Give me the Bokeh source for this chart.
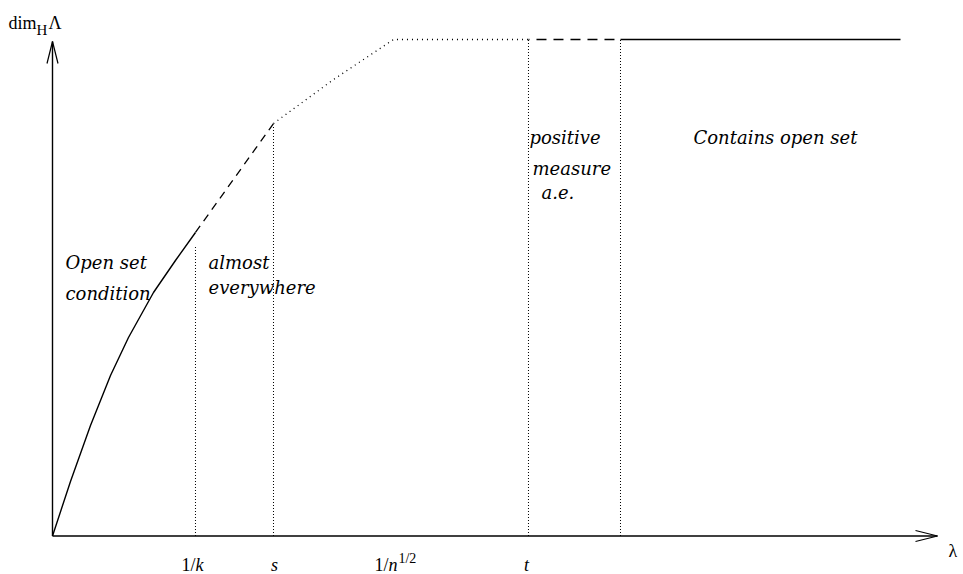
from bokeh.plotting import figure
from bokeh.models import Range1d
from bokeh.core.properties import value
from bokeh.embed import file_html
from bokeh.resources import INLINE

# ---------------- data (λ and dim_H Λ in normalised units) ----------------
# solid part of the curve (open set condition)
solid_lam = [0.0, 0.0212, 0.0448, 0.0684, 0.0896, 0.1191, 0.1450, 0.1686]
solid_dim = [0.0, 0.1098, 0.2226, 0.3233, 0.3998, 0.4904, 0.5549, 0.6113]
# dashed part (almost everywhere)
dash_lam = [0.1686, 0.2606]
dash_dim = [0.6113, 0.8308]
# dotted part up to the plateau
dot_lam = [0.2606, 0.3314, 0.4021, 0.5613]
dot_dim = [0.8308, 0.9194, 1.0, 1.0]
# plateau: dashed then solid
flat_dash_lam = [0.5613, 0.6698]
flat_dash_dim = [1.0, 1.0]
flat_solid_lam = [0.6698, 1.0]
flat_solid_dim = [1.0, 1.0]

# vertical dotted markers
marker_lam = [0.1686, 0.2606, 0.5613, 0.6698]
marker_top = [0.585, 0.826, 1.0, 1.0]

# tick labels on the λ axis
tick_1k = 0.1686
tick_s = 0.2606
tick_n = 0.4021
tick_t = 0.5613

region_texts = ["Open set", "condition", "almost", "everywhere",
                "positive", "measure", "a.e.", "Contains open set"]

# ---------------- layout helpers (pixel -> data) ----------------
OX, OY, UX, UY = 52.0, 535.5, 848.0, 496.5
def xd(px):
    return (px - OX) / UX
def yd(py):
    return (OY - py) / UY
def dx(px):
    return px / UX
def dy(px):
    return px / UY

W, H = 963, 574
p = figure(width=W, height=H, output_backend="svg", toolbar_location=None,
           x_range=Range1d(xd(0), xd(W)), y_range=Range1d(yd(H), yd(0)),
           x_axis_type=None, y_axis_type=None, min_border=0)
p.outline_line_color = None
p.background_fill_color = "white"
p.border_fill_color = "white"

BLACK = "#000000"
# axes with open arrow heads
p.segment(x0=[0, 0], y0=[0, 0], x1=[xd(937), 0], y1=[0, yd(41)],
          line_color=BLACK, line_width=1.4)
p.line([xd(915), xd(937), xd(915)], [yd(530), yd(535.5), yd(541)],
       line_color=BLACK, line_width=1.2)
p.line([xd(46.5), xd(52), xd(57.5)], [yd(63), yd(41), yd(63)],
       line_color=BLACK, line_width=1.2)

# vertical dotted markers
p.segment(x0=marker_lam, y0=[0] * len(marker_lam), x1=marker_lam, y1=marker_top,
          line_color=BLACK, line_width=1, line_dash="1 2")

# curve
p.line(solid_lam, solid_dim, line_color=BLACK, line_width=1.4)
p.line(dash_lam, dash_dim, line_color=BLACK, line_width=1.3, line_dash="8 6")
p.line(dot_lam, dot_dim, line_color=BLACK, line_width=1.3, line_dash="1 4")
p.line(flat_dash_lam, flat_dash_dim, line_color=BLACK, line_width=1.3,
       line_dash="10 7", line_dash_offset=-8)
p.line(flat_solid_lam, flat_solid_dim, line_color=BLACK, line_width=1.4)

# region labels
REG_FONT = value("DejaVu Serif")
reg_pos = [(65, 262), (65, 293), (208, 262), (208, 287),
           (529, 137), (532, 168), (541, 192), (693, 137)]
p.text(x=[xd(a) for a, b in reg_pos], y=[yd(b) for a, b in reg_pos],
       text=region_texts, text_font=REG_FONT, text_font_style="italic",
       text_font_size="18px", text_color=BLACK, text_align="left",
       text_baseline="alphabetic")

SERIF = value("Liberation Serif")
def piece(x, y, s, size="18px", style="normal", align="left"):
    p.text(x=[x], y=[y], text=[s], text_font=SERIF, text_font_style=style,
           text_font_size=size, text_color=BLACK, text_align=align,
           text_baseline="alphabetic")

TB = yd(564)
# 1/k
piece(tick_1k + dx(0), TB, "1/", align="right")
piece(tick_1k + dx(0), TB, "k", style="italic")
# s
piece(tick_s + dx(1), TB, "s", style="italic", align="center")
# 1/n^{1/2}
piece(tick_n - dx(5), TB, "1/", align="right")
piece(tick_n - dx(5), TB, "n", style="italic")
piece(tick_n + dx(5), TB + dy(6), "1/2", size="14px")
# t
piece(tick_t - dx(2), TB, "t", style="italic", align="center")

# axis titles
piece(xd(8), yd(22), "dim", size="18px")
piece(xd(36), yd(29), "H", size="15px")
piece(xd(48), yd(22), "Λ", size="18px")
piece(xd(948), yd(550), "λ", size="18px")

open("out.html", "w").write(file_html(p, INLINE))
